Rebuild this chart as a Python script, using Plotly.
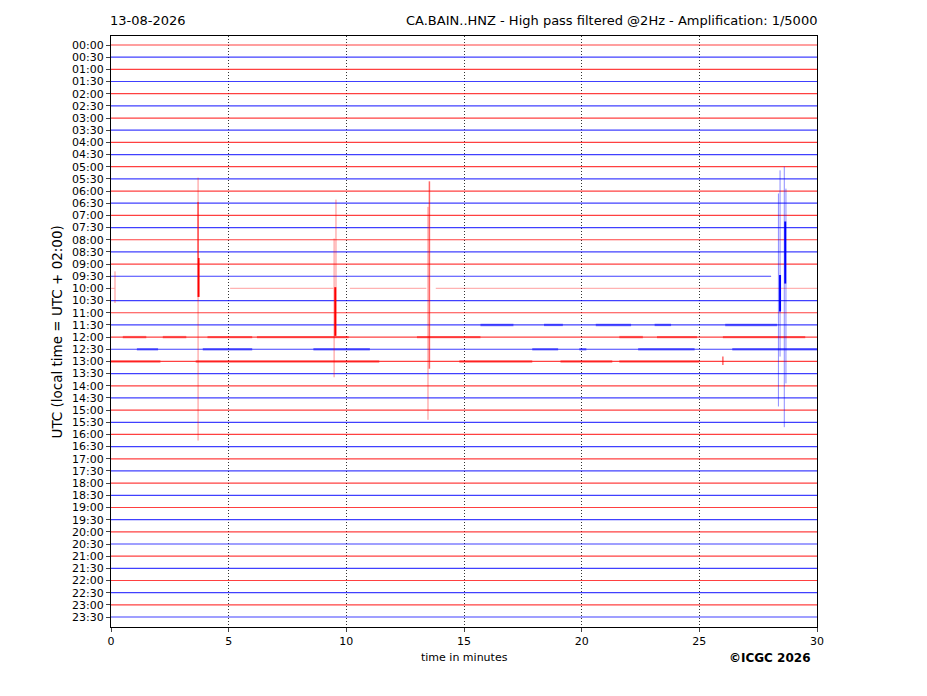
"""Helicorder day plot for CA.BAIN..HNZ, rebuilt with Plotly."""

import plotly.graph_objects as go

# one row per half hour of the day
ROW_LABELS = [f"{h:02d}:{m:02d}" for h in range(24) for m in (0, 30)]
MINUTE_TICKS = [0, 5, 10, 15, 20, 25, 30]

# rows that do not run the full 30 minutes (row, start, end in minutes)
SPAN_ROW = [19, 20, 20, 20, 20]
SPAN_START = [0.0, 0.0, 5.06, 10.15, 13.8]
SPAN_END = [28.05, 0.15, 9.45, 13.4, 30.0]
FAINT_ROWS = [20]

# stretches of stronger background noise
BURST_ROW = [23, 23, 23, 23, 23,
             24, 24, 24, 24, 24, 24, 24, 24,
             25, 25, 25, 25, 25, 25, 25,
             26, 26, 26, 26, 26]
BURST_START = [15.7, 18.4, 20.6, 23.1, 26.1,
               0.5, 2.2, 4.1, 6.2, 13.0, 21.6, 23.2, 26.0,
               1.1, 3.9, 8.6, 17.9, 19.9, 22.4, 26.4,
               0.0, 3.6, 14.8, 19.1, 21.6]
BURST_END = [17.1, 19.2, 22.1, 23.8, 28.3,
             1.5, 3.2, 6.0, 10.1, 15.7, 22.6, 24.9, 29.5,
             2.0, 6.0, 11.0, 19.0, 20.2, 24.8, 30.0,
             2.1, 11.4, 17.9, 21.3, 25.0]

# seismic arrivals: row of the trace, minute, top and bottom reach (in rows), weight
STROKE_ROW = [20, 20, 20, 20, 20, 20, 20, 20, 20, 26,
              19, 19, 19, 19, 19, 19]
STROKE_MIN = [3.70, 3.70, 3.72, 0.17, 9.48, 9.56, 9.53, 13.47, 13.53, 26.0,
              28.36, 28.43, 28.43, 28.61, 28.65, 28.68]
STROKE_TOP = [10.9, 12.9, 17.5, 18.6, 15.9, 12.7, 19.9, 13.3, 11.2, 25.6,
              12.2, 10.3, 18.9, 10.0, 14.5, 11.8]
STROKE_BOTTOM = [32.5, 17.5, 20.7, 21.2, 27.3, 23.9, 23.9, 30.8, 26.6, 26.3,
                 29.7, 25.6, 21.9, 31.4, 19.6, 27.8]
STROKE_WEIGHT = [1, 2, 3, 1, 1, 1, 3, 1, 2, 2,
                 1, 1, 3, 1, 3, 1]

RED = "255,0,0"
BLUE = "0,0,255"


def row_colour(row):
    return RED if row % 2 == 0 else BLUE


def spans_for(row):
    spans = [(s, e) for r, s, e in zip(SPAN_ROW, SPAN_START, SPAN_END) if r == row]
    return spans or [(0.0, 30.0)]


fig = go.Figure()

# baselines
for colour in (RED, BLUE):
    for faint in (False, True):
        xs, ys = [], []
        for row in range(len(ROW_LABELS)):
            if row_colour(row) != colour or (row in FAINT_ROWS) != faint:
                continue
            for start, end in spans_for(row):
                xs += [start, end, None]
                ys += [row, row, None]
        if not xs:
            continue
        fig.add_trace(go.Scatter(
            x=xs, y=ys, mode="lines", hoverinfo="skip", showlegend=False,
            line=dict(color=f"rgba({colour},{0.3 if faint else 0.75})", width=1.2),
        ))

# noisy stretches
for colour in (RED, BLUE):
    xs, ys = [], []
    for row, start, end in zip(BURST_ROW, BURST_START, BURST_END):
        if row_colour(row) == colour:
            xs += [start, end, None]
            ys += [row, row, None]
    fig.add_trace(go.Scatter(
        x=xs, y=ys, mode="lines", hoverinfo="skip", showlegend=False,
        line=dict(color=f"rgba({colour},0.5)", width=2.4),
    ))

# arrivals
weight_style = {1: (0.45, 1.0), 2: (0.6, 1.5), 3: (1.0, 2.0)}
for colour in (RED, BLUE):
    for weight, (alpha, width) in weight_style.items():
        xs, ys = [], []
        for row, t, top, bottom, w in zip(STROKE_ROW, STROKE_MIN, STROKE_TOP,
                                          STROKE_BOTTOM, STROKE_WEIGHT):
            if row_colour(row) == colour and w == weight:
                xs += [t, t, None]
                ys += [top, bottom, None]
        if not xs:
            continue
        fig.add_trace(go.Scatter(
            x=xs, y=ys, mode="lines", hoverinfo="skip", showlegend=False,
            line=dict(color=f"rgba({colour},{alpha})", width=width),
        ))

font = "DejaVu Sans, Liberation Sans, sans-serif"
fig.update_layout(
    width=927, height=696,
    margin=dict(l=103, r=118, t=28, b=77),
    paper_bgcolor="white", plot_bgcolor="white",
    font=dict(family=font, color="black", size=11),
    xaxis=dict(
        range=[0, 30], tickvals=MINUTE_TICKS, ticks="outside", ticklen=4,
        showline=True, linecolor="black", linewidth=1, mirror=True,
        showgrid=True, gridcolor="#333", griddash="1px,2px", gridwidth=0.8,
        zeroline=False, tickfont=dict(size=11),
    ),
    yaxis=dict(
        range=[47.82, -0.74], tickvals=list(range(len(ROW_LABELS))),
        ticktext=ROW_LABELS, ticks="outside", ticklen=4,
        showline=True, linecolor="black", linewidth=1, mirror=True,
        showgrid=False, zeroline=False, tickfont=dict(size=11),
    ),
    annotations=[
        dict(text="13-08-2026", x=-0.004, y=1.027, xref="paper", yref="paper",
             xanchor="left", yanchor="middle", showarrow=False, font=dict(size=13)),
        dict(text="CA.BAIN..HNZ - High pass filtered @2Hz - Amplification: 1/5000",
             x=1.003, y=1.027, xref="paper", yref="paper",
             xanchor="right", yanchor="middle", showarrow=False, font=dict(size=13)),
        dict(text="UTC (local time = UTC + 02:00)", x=-0.0765, y=0.5,
             xref="paper", yref="paper", textangle=-90, xanchor="center",
             yanchor="middle", showarrow=False, font=dict(size=13.5)),
        dict(text="time in minutes", x=0.5, y=-0.0508, xref="paper", yref="paper",
             xanchor="center", yanchor="middle", showarrow=False, font=dict(size=11)),
        dict(text="<b>©ICGC 2026</b>", x=0.933, y=-0.0525, xref="paper", yref="paper",
             xanchor="center", yanchor="middle", showarrow=False, font=dict(size=12)),
    ],
)

fig.write_html("out.html")
